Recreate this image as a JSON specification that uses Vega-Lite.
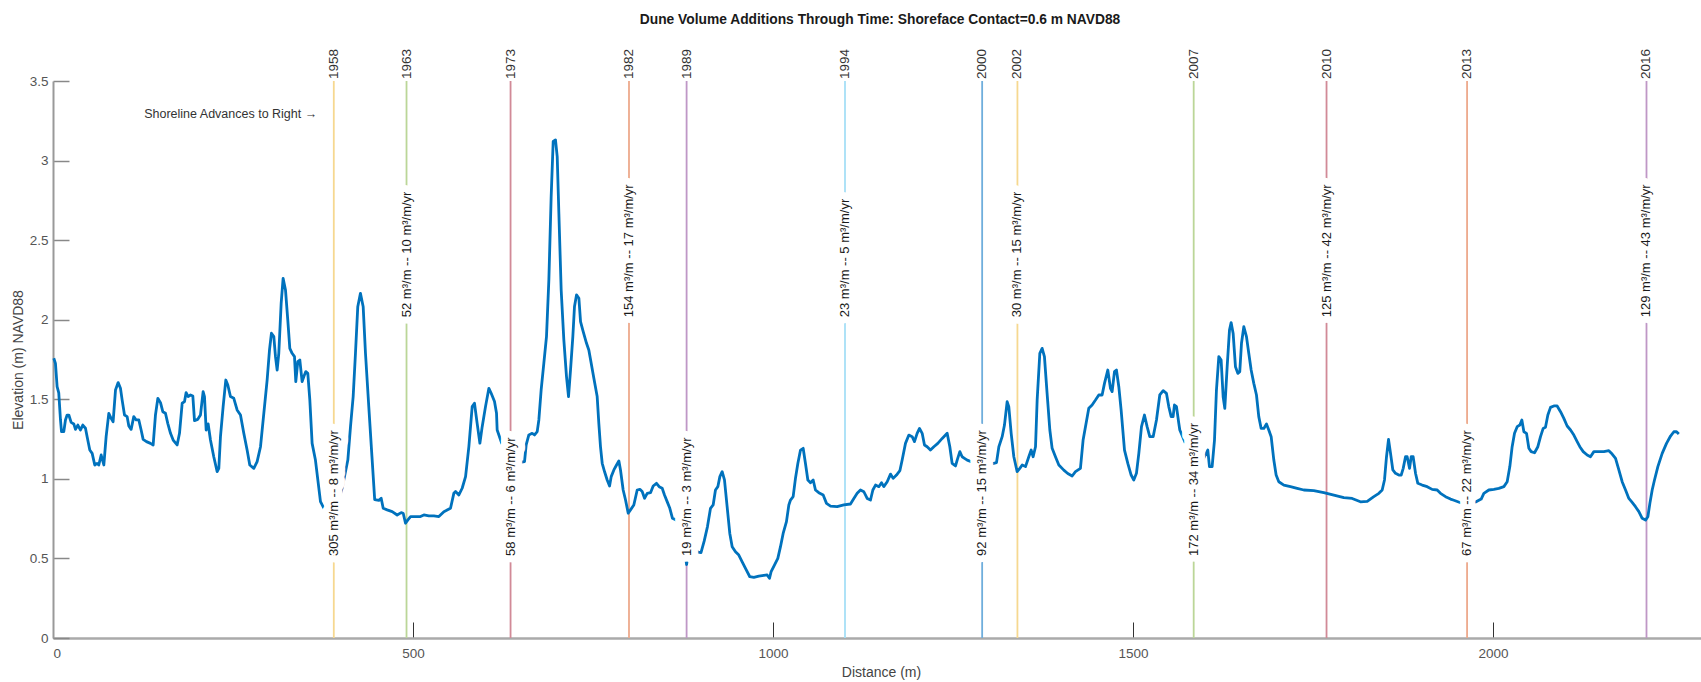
{
  "$schema": "https://vega.github.io/schema/vega-lite/v6.json",
  "autosize": "none",
  "width": 1648,
  "height": 557,
  "padding": {"left": 53, "top": 81, "right": 0, "bottom": 44},
  "background": "white",
  "config": {"view": {"stroke": null}, "font": "Liberation Sans"},
  "title": {"text": "Dune Volume Additions Through Time: Shoreface Contact=0.6 m NAVD88", "font": "Liberation Sans", "fontSize": 13.8, "fontWeight": "bold", "color": "#1a1a1a", "anchor": "middle", "dx": 3, "offset": 22},
  "datasets": {
    "events": [
      {"year": "1958", "d": 390, "ly": 0.5, "label": "305 m³/m -- 8 m³/m/yr"},
      {"year": "1963", "d": 491, "ly": 2.0, "label": "52 m³/m -- 10 m³/m/yr"},
      {"year": "1973", "d": 635.5, "ly": 0.5, "label": "58 m³/m -- 6 m³/m/yr"},
      {"year": "1982", "d": 800, "ly": 2.0, "label": "154 m³/m -- 17 m³/m/yr"},
      {"year": "1989", "d": 880, "ly": 0.5, "label": "19 m³/m -- 3 m³/m/yr"},
      {"year": "1994", "d": 1100, "ly": 2.0, "label": "23 m³/m -- 5 m³/m/yr"},
      {"year": "2000", "d": 1290.5, "ly": 0.5, "label": "92 m³/m -- 15 m³/m/yr"},
      {"year": "2002", "d": 1339.5, "ly": 2.0, "label": "30 m³/m -- 15 m³/m/yr"},
      {"year": "2007", "d": 1584.3, "ly": 0.5, "label": "172 m³/m -- 34 m³/m/yr"},
      {"year": "2010", "d": 1768.8, "ly": 2.0, "label": "125 m³/m -- 42 m³/m/yr"},
      {"year": "2013", "d": 1964, "ly": 0.5, "label": "67 m³/m -- 22 m³/m/yr"},
      {"year": "2016", "d": 2213.2, "ly": 2.0, "label": "129 m³/m -- 43 m³/m/yr"}
    ],
    "notes": [
      {"d": 367, "z": 3.29, "note": "Shoreline Advances to Right →"}
    ],
    "profile": [
      {"d":1.1,"z":1.758},{"d":3.4,"z":1.726},{"d":5.7,"z":1.58},{"d":8,"z":1.54},{"d":10.4,"z":1.37},{"d":11.8,"z":1.297},{"d":15,"z":1.297},{"d":17.3,"z":1.37},{"d":19.6,"z":1.401},{"d":22,"z":1.401},{"d":25.2,"z":1.355},{"d":28.9,"z":1.345},{"d":31.2,"z":1.311},{"d":34.5,"z":1.338},{"d":38.2,"z":1.307},{"d":41.4,"z":1.338},{"d":45.1,"z":1.318},{"d":47.4,"z":1.265},{"d":51.1,"z":1.181},{"d":54.4,"z":1.16},{"d":58,"z":1.087},{"d":61.3,"z":1.097},{"d":63.6,"z":1.087},{"d":66.9,"z":1.15},{"d":70.6,"z":1.087},{"d":73.8,"z":1.265},{"d":77.5,"z":1.412},{"d":80.7,"z":1.38},{"d":83.5,"z":1.359},{"d":86.8,"z":1.558},{"d":90.5,"z":1.605},{"d":93.7,"z":1.569},{"d":96,"z":1.496},{"d":99.3,"z":1.401},{"d":103,"z":1.391},{"d":105.3,"z":1.332},{"d":108.5,"z":1.311},{"d":112.2,"z":1.391},{"d":115.5,"z":1.37},{"d":119.2,"z":1.37},{"d":122.4,"z":1.307},{"d":125.2,"z":1.248},{"d":129.8,"z":1.234},{"d":135.4,"z":1.223},{"d":139.1,"z":1.213},{"d":142.3,"z":1.401},{"d":145.6,"z":1.506},{"d":149.3,"z":1.479},{"d":152.5,"z":1.422},{"d":156.2,"z":1.412},{"d":159.4,"z":1.349},{"d":163.2,"z":1.286},{"d":166.9,"z":1.244},{"d":172.4,"z":1.213},{"d":175.7,"z":1.286},{"d":179.4,"z":1.475},{"d":182.6,"z":1.485},{"d":184.9,"z":1.542},{"d":187.7,"z":1.517},{"d":191,"z":1.527},{"d":194.2,"z":1.521},{"d":196.5,"z":1.366},{"d":201.1,"z":1.374},{"d":204.8,"z":1.401},{"d":208.5,"z":1.548},{"d":210.4,"z":1.517},{"d":212.7,"z":1.307},{"d":215.5,"z":1.345},{"d":218.7,"z":1.244},{"d":223.3,"z":1.139},{"d":228,"z":1.045},{"d":230.3,"z":1.066},{"d":232.6,"z":1.265},{"d":236.3,"z":1.454},{"d":240,"z":1.621},{"d":242.8,"z":1.59},{"d":246.5,"z":1.517},{"d":251.1,"z":1.506},{"d":255.7,"z":1.433},{"d":260.4,"z":1.401},{"d":265,"z":1.286},{"d":269.6,"z":1.181},{"d":273.3,"z":1.087},{"d":278.9,"z":1.066},{"d":283.5,"z":1.108},{"d":288.2,"z":1.202},{"d":292.8,"z":1.412},{"d":297.4,"z":1.621},{"d":300.7,"z":1.81},{"d":303.4,"z":1.915},{"d":306.7,"z":1.894},{"d":309,"z":1.768},{"d":311.3,"z":1.684},{"d":313.6,"z":1.789},{"d":316.9,"z":2.103},{"d":319.6,"z":2.26},{"d":322.9,"z":2.187},{"d":326.1,"z":1.998},{"d":328.9,"z":1.82},{"d":332.1,"z":1.789},{"d":335.4,"z":1.768},{"d":337.2,"z":1.611},{"d":340,"z":1.737},{"d":342.8,"z":1.747},{"d":346,"z":1.611},{"d":348.3,"z":1.642},{"d":351.1,"z":1.674},{"d":353.9,"z":1.663},{"d":356.7,"z":1.496},{"d":359.9,"z":1.223},{"d":364.5,"z":1.118},{"d":371.5,"z":0.857},{"d":378,"z":0.8},{"d":386,"z":0.78},{"d":394,"z":0.82},{"d":402,"z":0.95},{"d":409.5,"z":1.118},{"d":413.2,"z":1.328},{"d":416.9,"z":1.517},{"d":420.1,"z":1.789},{"d":423.3,"z":2.082},{"d":427,"z":2.166},{"d":430.8,"z":2.082},{"d":434,"z":1.789},{"d":438.6,"z":1.454},{"d":443,"z":1.14},{"d":446.8,"z":0.87},{"d":452.6,"z":0.865},{"d":455.8,"z":0.878},{"d":458.6,"z":0.815},{"d":464.1,"z":0.805},{"d":471.1,"z":0.794},{"d":478,"z":0.773},{"d":483.6,"z":0.788},{"d":486.4,"z":0.784},{"d":489.6,"z":0.721},{"d":492.9,"z":0.742},{"d":496.6,"z":0.763},{"d":503.5,"z":0.763},{"d":510.4,"z":0.763},{"d":515.1,"z":0.773},{"d":522,"z":0.767},{"d":529,"z":0.767},{"d":535.9,"z":0.763},{"d":542.9,"z":0.794},{"d":552.1,"z":0.815},{"d":556.7,"z":0.909},{"d":559.1,"z":0.92},{"d":563.7,"z":0.899},{"d":568.3,"z":0.941},{"d":573,"z":1.014},{"d":577.6,"z":1.203},{"d":582.2,"z":1.454},{"d":585.4,"z":1.475},{"d":589.1,"z":1.349},{"d":592.9,"z":1.224},{"d":596.1,"z":1.328},{"d":600.7,"z":1.454},{"d":605.4,"z":1.569},{"d":608.6,"z":1.538},{"d":613.2,"z":1.486},{"d":616,"z":1.412},{"d":616.9,"z":1.307},{"d":625,"z":1.2},{"d":635,"z":1.15},{"d":645,"z":1.1},{"d":654.9,"z":1.108},{"d":657.2,"z":1.213},{"d":660.9,"z":1.276},{"d":665.5,"z":1.286},{"d":668.8,"z":1.276},{"d":672.5,"z":1.297},{"d":674.8,"z":1.37},{"d":678,"z":1.559},{"d":681.7,"z":1.726},{"d":685.4,"z":1.894},{"d":688.7,"z":2.25},{"d":691.9,"z":2.774},{"d":694.7,"z":3.12},{"d":697.9,"z":3.13},{"d":700.3,"z":3.025},{"d":702.6,"z":2.669},{"d":705.8,"z":2.187},{"d":709.5,"z":1.873},{"d":713.2,"z":1.643},{"d":716,"z":1.517},{"d":718.8,"z":1.685},{"d":722,"z":1.894},{"d":724.3,"z":2.083},{"d":727.1,"z":2.156},{"d":730.4,"z":2.135},{"d":732.7,"z":1.988},{"d":736.4,"z":1.925},{"d":741,"z":1.852},{"d":744.2,"z":1.81},{"d":747.5,"z":1.726},{"d":751.2,"z":1.632},{"d":755.8,"z":1.517},{"d":758.1,"z":1.349},{"d":760.4,"z":1.203},{"d":762.8,"z":1.098},{"d":766,"z":1.046},{"d":769.7,"z":0.993},{"d":773,"z":0.955},{"d":775.3,"z":1.014},{"d":779,"z":1.056},{"d":782.7,"z":1.087},{"d":785.9,"z":1.113},{"d":788.2,"z":1.056},{"d":791.9,"z":0.93},{"d":795.2,"z":0.867},{"d":798.9,"z":0.784},{"d":802.1,"z":0.805},{"d":806.7,"z":0.836},{"d":811.4,"z":0.93},{"d":815.1,"z":0.934},{"d":818.3,"z":0.92},{"d":821.6,"z":0.878},{"d":825.3,"z":0.909},{"d":829.9,"z":0.913},{"d":833.6,"z":0.955},{"d":838.2,"z":0.972},{"d":841.9,"z":0.951},{"d":846.1,"z":0.941},{"d":849.3,"z":0.899},{"d":853,"z":0.857},{"d":856.7,"z":0.815},{"d":860.4,"z":0.752},{"d":866,"z":0.74},{"d":872,"z":0.7},{"d":877,"z":0.56},{"d":880,"z":0.462},{"d":883,"z":0.56},{"d":890,"z":0.56},{"d":896,"z":0.54},{"d":900,"z":0.537},{"d":904.5,"z":0.61},{"d":909,"z":0.7},{"d":913.2,"z":0.815},{"d":916.9,"z":0.836},{"d":920.1,"z":0.93},{"d":923.4,"z":0.951},{"d":926.2,"z":1.014},{"d":929.4,"z":1.045},{"d":932.6,"z":0.993},{"d":936.3,"z":0.825},{"d":940,"z":0.657},{"d":943.3,"z":0.574},{"d":947.9,"z":0.542},{"d":952.5,"z":0.521},{"d":957.2,"z":0.479},{"d":961.8,"z":0.437},{"d":967.8,"z":0.385},{"d":973.4,"z":0.381},{"d":980.3,"z":0.389},{"d":987.3,"z":0.393},{"d":991.9,"z":0.396},{"d":995.1,"z":0.375},{"d":997.4,"z":0.417},{"d":1002,"z":0.458},{"d":1006.7,"z":0.5},{"d":1010.4,"z":0.574},{"d":1014.1,"z":0.657},{"d":1018.7,"z":0.731},{"d":1022,"z":0.836},{"d":1024.3,"z":0.867},{"d":1028,"z":0.888},{"d":1031.2,"z":1.003},{"d":1034.5,"z":1.097},{"d":1038.2,"z":1.181},{"d":1041.9,"z":1.192},{"d":1045.1,"z":1.097},{"d":1048.4,"z":0.993},{"d":1052.1,"z":0.976},{"d":1055.8,"z":0.993},{"d":1059,"z":0.93},{"d":1063.6,"z":0.913},{"d":1069.7,"z":0.898},{"d":1074.3,"z":0.846},{"d":1079.9,"z":0.829},{"d":1089.1,"z":0.825},{"d":1098.4,"z":0.836},{"d":1107.6,"z":0.842},{"d":1112.3,"z":0.877},{"d":1116.9,"z":0.909},{"d":1121.5,"z":0.93},{"d":1126.2,"z":0.919},{"d":1130.8,"z":0.877},{"d":1135.4,"z":0.867},{"d":1138.7,"z":0.93},{"d":1142.4,"z":0.961},{"d":1147,"z":0.951},{"d":1150.7,"z":0.976},{"d":1153.9,"z":0.951},{"d":1158.6,"z":0.982},{"d":1163.2,"z":1.03},{"d":1166.9,"z":1.003},{"d":1171.5,"z":1.024},{"d":1176.2,"z":1.051},{"d":1179.4,"z":1.118},{"d":1184,"z":1.223},{"d":1188.7,"z":1.275},{"d":1193.3,"z":1.265},{"d":1196.5,"z":1.234},{"d":1200.2,"z":1.286},{"d":1203.5,"z":1.317},{"d":1207.2,"z":1.286},{"d":1210.4,"z":1.213},{"d":1214.1,"z":1.202},{"d":1218.7,"z":1.181},{"d":1223.4,"z":1.202},{"d":1228.9,"z":1.223},{"d":1235,"z":1.254},{"d":1241.9,"z":1.286},{"d":1245.6,"z":1.202},{"d":1248.8,"z":1.097},{"d":1253.5,"z":1.081},{"d":1255.8,"z":1.118},{"d":1259.5,"z":1.171},{"d":1262.7,"z":1.139},{"d":1266,"z":1.129},{"d":1269.7,"z":1.118},{"d":1280,"z":1.1},{"d":1290,"z":1.08},{"d":1300,"z":1.09},{"d":1310.4,"z":1.102},{"d":1313.7,"z":1.202},{"d":1318.3,"z":1.265},{"d":1321.5,"z":1.338},{"d":1325.2,"z":1.485},{"d":1327.5,"z":1.454},{"d":1330.8,"z":1.286},{"d":1334.5,"z":1.139},{"d":1339.1,"z":1.045},{"d":1342.8,"z":1.066},{"d":1346.1,"z":1.087},{"d":1350.7,"z":1.077},{"d":1355.3,"z":1.139},{"d":1358.6,"z":1.181},{"d":1361.3,"z":1.139},{"d":1364.6,"z":1.202},{"d":1366.9,"z":1.496},{"d":1370.6,"z":1.789},{"d":1373.8,"z":1.82},{"d":1377,"z":1.768},{"d":1380.7,"z":1.537},{"d":1384.5,"z":1.307},{"d":1387.7,"z":1.192},{"d":1392.3,"z":1.139},{"d":1397,"z":1.087},{"d":1403.9,"z":1.055},{"d":1409.4,"z":1.034},{"d":1415.5,"z":1.018},{"d":1420.1,"z":1.045},{"d":1427,"z":1.066},{"d":1430.7,"z":1.244},{"d":1434,"z":1.328},{"d":1438.6,"z":1.443},{"d":1443.2,"z":1.464},{"d":1447.9,"z":1.495},{"d":1452.5,"z":1.527},{"d":1457.1,"z":1.527},{"d":1460.4,"z":1.6},{"d":1465,"z":1.684},{"d":1468.7,"z":1.569},{"d":1471,"z":1.548},{"d":1474.3,"z":1.674},{"d":1477,"z":1.684},{"d":1480.3,"z":1.579},{"d":1483.5,"z":1.433},{"d":1488.2,"z":1.181},{"d":1492.8,"z":1.097},{"d":1497.4,"z":1.024},{"d":1501.1,"z":0.993},{"d":1504.8,"z":1.035},{"d":1508.1,"z":1.16},{"d":1511.8,"z":1.328},{"d":1515.9,"z":1.401},{"d":1519.6,"z":1.328},{"d":1523.3,"z":1.265},{"d":1528,"z":1.265},{"d":1532.6,"z":1.37},{"d":1537.2,"z":1.527},{"d":1541.9,"z":1.554},{"d":1546.5,"z":1.537},{"d":1549.7,"z":1.454},{"d":1553,"z":1.391},{"d":1555.7,"z":1.391},{"d":1557.6,"z":1.464},{"d":1560.4,"z":1.454},{"d":1563.6,"z":1.349},{"d":1565,"z":1.307},{"d":1575,"z":1.2},{"d":1585,"z":1.12},{"d":1595,"z":1.1},{"d":1603.9,"z":1.181},{"d":1606.2,"z":1.077},{"d":1609.9,"z":1.077},{"d":1613.2,"z":1.244},{"d":1615.9,"z":1.558},{"d":1619.2,"z":1.768},{"d":1622.4,"z":1.747},{"d":1625.2,"z":1.516},{"d":1627.5,"z":1.443},{"d":1630.8,"z":1.705},{"d":1634,"z":1.935},{"d":1636.3,"z":1.982},{"d":1639.1,"z":1.914},{"d":1642.3,"z":1.705},{"d":1645.6,"z":1.663},{"d":1648.3,"z":1.674},{"d":1650.7,"z":1.852},{"d":1653.9,"z":1.956},{"d":1657.6,"z":1.894},{"d":1660.8,"z":1.789},{"d":1664.1,"z":1.684},{"d":1667.8,"z":1.6},{"d":1671.5,"z":1.527},{"d":1674.7,"z":1.391},{"d":1678,"z":1.317},{"d":1681.7,"z":1.317},{"d":1685.4,"z":1.345},{"d":1688.6,"z":1.307},{"d":1691.9,"z":1.265},{"d":1695.6,"z":1.118},{"d":1698.8,"z":1.024},{"d":1702.5,"z":0.982},{"d":1709.5,"z":0.961},{"d":1718.7,"z":0.951},{"d":1728,"z":0.94},{"d":1737.2,"z":0.93},{"d":1751.1,"z":0.926},{"d":1765,"z":0.913},{"d":1778.9,"z":0.898},{"d":1792.8,"z":0.882},{"d":1804.4,"z":0.877},{"d":1815.9,"z":0.856},{"d":1825.3,"z":0.858},{"d":1834.5,"z":0.888},{"d":1841.5,"z":0.909},{"d":1846.1,"z":0.93},{"d":1849.3,"z":0.993},{"d":1852.1,"z":1.139},{"d":1854.9,"z":1.248},{"d":1857.7,"z":1.16},{"d":1860.9,"z":1.056},{"d":1864.6,"z":1.035},{"d":1869.2,"z":1.024},{"d":1872.5,"z":1.024},{"d":1875.3,"z":1.066},{"d":1878.5,"z":1.139},{"d":1880.8,"z":1.139},{"d":1884.1,"z":1.066},{"d":1886.4,"z":1.139},{"d":1889.1,"z":1.139},{"d":1892.4,"z":1.035},{"d":1895.6,"z":0.972},{"d":1901.6,"z":0.961},{"d":1908.6,"z":0.951},{"d":1915.5,"z":0.934},{"d":1922.5,"z":0.93},{"d":1927.1,"z":0.909},{"d":1934.1,"z":0.888},{"d":1941,"z":0.873},{"d":1944.7,"z":0.867},{"d":1955,"z":0.85},{"d":1964,"z":0.84},{"d":1974,"z":0.85},{"d":1983.6,"z":0.873},{"d":1987.3,"z":0.909},{"d":1994.2,"z":0.93},{"d":2001.2,"z":0.934},{"d":2008.1,"z":0.94},{"d":2015.1,"z":0.951},{"d":2019.7,"z":0.982},{"d":2023.4,"z":1.077},{"d":2026.6,"z":1.202},{"d":2029.9,"z":1.286},{"d":2033.6,"z":1.328},{"d":2037.3,"z":1.338},{"d":2040.1,"z":1.37},{"d":2042.9,"z":1.296},{"d":2046.6,"z":1.286},{"d":2049.8,"z":1.192},{"d":2053,"z":1.171},{"d":2057.7,"z":1.164},{"d":2062.3,"z":1.202},{"d":2066,"z":1.265},{"d":2069.7,"z":1.317},{"d":2072.9,"z":1.324},{"d":2076.2,"z":1.401},{"d":2079.9,"z":1.449},{"d":2084.5,"z":1.458},{"d":2089.1,"z":1.458},{"d":2093.8,"z":1.422},{"d":2098.4,"z":1.38},{"d":2103,"z":1.332},{"d":2107.7,"z":1.307},{"d":2112.3,"z":1.275},{"d":2116.9,"z":1.234},{"d":2120.6,"z":1.202},{"d":2125.3,"z":1.171},{"d":2130.8,"z":1.15},{"d":2135.4,"z":1.139},{"d":2140.1,"z":1.171},{"d":2147,"z":1.171},{"d":2154,"z":1.171},{"d":2160.9,"z":1.177},{"d":2165.5,"z":1.156},{"d":2170.2,"z":1.129},{"d":2174.8,"z":1.056},{"d":2179.4,"z":0.982},{"d":2184.1,"z":0.93},{"d":2188.7,"z":0.877},{"d":2193.3,"z":0.852},{"d":2197.9,"z":0.825},{"d":2202.6,"z":0.794},{"d":2207.2,"z":0.752},{"d":2211.8,"z":0.741},{"d":2215.1,"z":0.762},{"d":2217.9,"z":0.846},{"d":2221.1,"z":0.93},{"d":2224.3,"z":0.993},{"d":2229,"z":1.077},{"d":2235,"z":1.16},{"d":2241,"z":1.223},{"d":2246.6,"z":1.269},{"d":2251.2,"z":1.296},{"d":2254.9,"z":1.296},{"d":2258.1,"z":1.282}
    ]
  },
  "layer": [
    {
      "data": {"name": "events"},
      "mark": {"type": "rule", "strokeWidth": 1.8},
      "encoding": {
        "x": {"field": "d", "type": "quantitative", "scale": {"domain": [0, 2288.9], "nice": false, "zero": false},
          "axis": {"title": "Distance (m)", "values": [0, 500, 1000, 1500, 2000], "format": "d", "grid": false,
            "tickSize": -16, "tickColor": "#333333", "tickWidth": 1, "domainColor": "#aaaaaa", "domainWidth": 2.5,
            "labelFont": "Liberation Sans", "labelFontSize": 13.5, "labelColor": "#555555", "labelPadding": 24,
            "titleFont": "Liberation Sans", "titleFontSize": 14, "titleFontWeight": "normal", "titleColor": "#444444", "titlePadding": 6, "titleX": 828}},
        "color": {"field": "year", "type": "nominal", "legend": null,
          "scale": {"domain": ["1958","1963","1973","1982","1989","1994","2000","2002","2007","2010","2013","2016"],
            "range": ["#F6D890","#BBD698","#D18A97","#EDA98C","#BF97C6","#A6DFF7","#6FAEDC","#F6D890","#BBD698","#D18A97","#EDA98C","#BF97C6"]}}
      }
    },
    {
      "data": {"name": "profile"},
      "mark": {"type": "line", "color": "#0072BD", "strokeWidth": 2.8, "strokeJoin": "round"},
      "encoding": {
        "x": {"field": "d", "type": "quantitative"},
        "y": {"field": "z", "type": "quantitative", "scale": {"domain": [0, 3.5], "nice": false},
          "axis": {"title": "Elevation (m) NAVD88", "values": [0, 0.5, 1, 1.5, 2, 2.5, 3, 3.5], "format": "~g", "grid": false,
            "tickSize": -16, "tickColor": "#888888", "tickWidth": 1.5, "domainColor": "#999999", "domainWidth": 2,
            "labelFont": "Liberation Sans", "labelFontSize": 13.5, "labelColor": "#555555", "labelPadding": 21,
            "titleFont": "Liberation Sans", "titleFontSize": 14, "titleFontWeight": "normal", "titleColor": "#444444", "titlePadding": 4}}
      }
    },
    {
      "data": {"name": "events"},
      "mark": {"type": "text", "angle": 270, "align": "left", "baseline": "middle", "dx": 2.5, "font": "Liberation Sans", "fontSize": 13, "fill": "white", "stroke": "white", "strokeWidth": 14, "strokeJoin": "round"},
      "encoding": {
        "x": {"field": "d", "type": "quantitative"},
        "y": {"field": "ly", "type": "quantitative"},
        "text": {"field": "label"}
      }
    },
    {
      "data": {"name": "events"},
      "mark": {"type": "text", "angle": 270, "align": "left", "baseline": "middle", "dx": 2.5, "font": "Liberation Sans", "fontSize": 13, "color": "#1a1a1a"},
      "encoding": {
        "x": {"field": "d", "type": "quantitative"},
        "y": {"field": "ly", "type": "quantitative"},
        "text": {"field": "label"}
      }
    },
    {
      "data": {"name": "events"},
      "mark": {"type": "text", "angle": 270, "align": "left", "baseline": "middle", "dx": 2, "font": "Liberation Sans", "fontSize": 13.5, "color": "#333333"},
      "encoding": {
        "x": {"field": "d", "type": "quantitative"},
        "y": {"datum": 3.5, "type": "quantitative"},
        "text": {"field": "year"}
      }
    },
    {
      "data": {"name": "notes"},
      "mark": {"type": "text", "align": "right", "baseline": "middle", "font": "Liberation Sans", "fontSize": 12.5, "color": "#333333"},
      "encoding": {
        "x": {"field": "d", "type": "quantitative"},
        "y": {"field": "z", "type": "quantitative"},
        "text": {"field": "note"}
      }
    }
  ]
}
